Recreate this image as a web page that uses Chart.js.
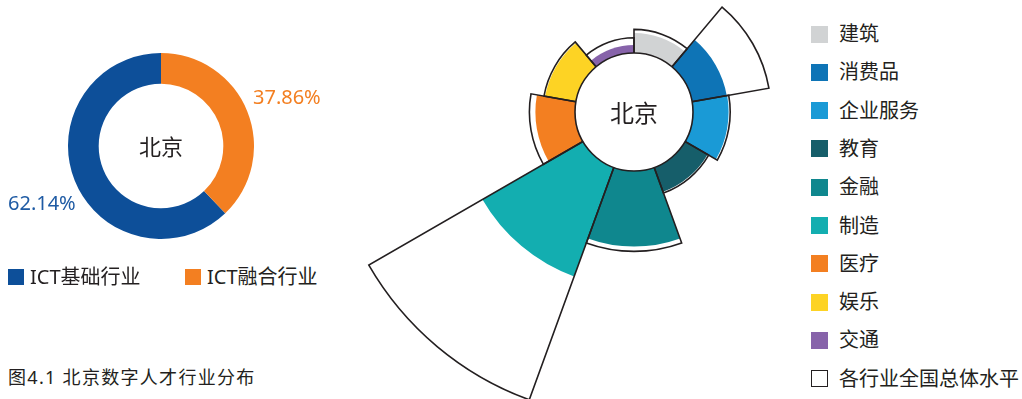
<!DOCTYPE html>
<html lang="zh-CN">
<head>
<meta charset="utf-8">
<title>北京数字人才行业分布</title>
<script src="https://cdn.jsdelivr.net/npm/chart.js@4.4.1/dist/chart.umd.min.js"></script>
<style>
  html, body { margin: 0; padding: 0; background: #fff; }
  body {
    position: relative; width: 1022px; height: 399px; overflow: hidden;
    font-family: "Noto Sans", "Noto Sans CJK SC", sans-serif; color: #231f20;
  }
  .abs { position: absolute; }
  #donutBox { left: 68px; top: 53px; width: 186px; height: 186px; }
  #roseBox { left: 330px; top: 0; width: 470px; height: 399px; }
  .pct { font-size: 20px; line-height: 1; transform: translateY(-50%); white-space: nowrap; }
  .lg { display: flex; align-items: center; font-size: 20px; line-height: 1; white-space: nowrap;
        transform: translateY(-50%); }
  .lg .sw { width: 16px; height: 16px; margin-right: 6px; box-sizing: border-box; }
  #roseLegend .lg .sw { width: 17px; height: 17px; margin-right: 11px; }
  .caption { left: 8px; top: 377px; font-size: 18px; letter-spacing: 1.3px; line-height: 1;
             transform: translateY(-50%); white-space: nowrap; }
</style>
</head>
<body>
<div id="donutBox" class="abs"><canvas id="donutChart"></canvas></div>
<div id="roseBox" class="abs"><canvas id="roseChart"></canvas></div>
<div id="donutLabels"></div>
<div id="donutLegend"></div>
<div id="roseLegend"></div>
<div class="abs caption">图4.1 北京数字人才行业分布</div>

<script>
// ICT split for Beijing (percent)
const ictLabels = ['ICT基础行业', 'ICT融合行业'];
const ictShares = [62.14, 37.86];

// Industry distribution: Beijing vs the national overall level
const industries = ['建筑', '消费品', '企业服务', '教育', '金融', '制造', '医疗', '娱乐', '交通'];
const beijingValues = [5.0, 8.8, 8.9, 6.5, 18.9, 29.0, 9.9, 7.8, 2.0];
const nationalValues = [5.9, 19.5, 9.3, 6.8, 20.1, 61.8, 11.4, 8.1, 3.8];
const nationalLabel = '各行业全国总体水平';

const ictColors = ['#0d4f99', '#f37f21'];
const ictTextColors = ['#1f5ba4', '#f37f21'];
const industryColors = ['#d1d3d4', '#0e74b6', '#1a9ad6', '#165e6a', '#0f878e',
                        '#13aeb0', '#f37f21', '#fdd324', '#8763aa'];
const ink = '#231f20';

// Rose geometry: square chart area, hole radius and px per percent
const ROSE_BOX = 224;
const HOLE = 59;
const PX_PER_UNIT = 4;
const roseMin = -HOLE / PX_PER_UNIT;
const roseMax = roseMin + ROSE_BOX / 2 / PX_PER_UNIT;

// White disc with a city name in the middle of a chart
const centerDisc = {
  id: 'centerDisc',
  afterDatasetsDraw(chart, args, opts) {
    const ctx = chart.ctx;
    let x, y;
    if (chart.scales.r) {
      const s = chart.scales.r;
      x = s.xCenter; y = s.yCenter;
      const r = s.getDistanceFromCenterForValue(0);
      ctx.save();
      ctx.beginPath();
      ctx.arc(x, y, r, 0, Math.PI * 2);
      ctx.fillStyle = '#fff';
      ctx.fill();
      ctx.lineWidth = 1.6;
      ctx.strokeStyle = ink;
      ctx.stroke();
      ctx.restore();
    } else {
      const a = chart.getDatasetMeta(0).data[0];
      x = a.x; y = a.y;
    }
    ctx.save();
    ctx.fillStyle = ink;
    ctx.font = opts.size + 'px "Noto Sans CJK SC"';
    ctx.textAlign = 'center';
    ctx.textBaseline = 'middle';
    ctx.fillText(opts.text, x, y + 1);
    ctx.restore();
  }
};

new Chart(document.getElementById('donutChart'), {
  type: 'doughnut',
  data: {
    labels: ictLabels,
    datasets: [{
      data: ictShares,
      backgroundColor: ictColors,
      borderWidth: 0
    }]
  },
  options: {
    responsive: true,
    maintainAspectRatio: false,
    animation: false,
    cutout: '67%',
    rotation: 360 * ictShares[1] / 100,
    plugins: {
      legend: { display: false },
      tooltip: { enabled: false },
      centerDisc: { text: '北京', size: 22 }
    }
  },
  plugins: [centerDisc]
});

new Chart(document.getElementById('roseChart'), {
  type: 'polarArea',
  data: {
    labels: industries,
    datasets: [
      {
        // national level: outline only, drawn on top
        label: nationalLabel,
        data: nationalValues,
        backgroundColor: 'rgba(255,255,255,0)',
        borderColor: ink,
        borderWidth: 1.6,
        borderJoinStyle: 'miter',
        clip: false
      },
      {
        label: '北京',
        data: beijingValues,
        backgroundColor: industryColors,
        borderWidth: 0,
        clip: false
      }
    ]
  },
  options: {
    responsive: true,
    maintainAspectRatio: false,
    animation: false,
    layout: { padding: { left: 192, right: 54, top: 0, bottom: 399 - ROSE_BOX } },
    scales: {
      r: {
        min: roseMin,
        max: roseMax,
        ticks: { display: false },
        grid: { display: false },
        angleLines: { display: false },
        pointLabels: { display: false }
      }
    },
    plugins: {
      legend: { display: false },
      tooltip: { enabled: false },
      centerDisc: { text: '北京', size: 24 }
    }
  },
  plugins: [centerDisc]
});

// Percent labels beside the ring
const pctPos = [{ left: 8, top: 203 }, { left: 253, top: 97 }];
document.getElementById('donutLabels').innerHTML = ictShares.map((v, i) =>
  `<div class="abs pct" style="left:${pctPos[i].left}px;top:${pctPos[i].top}px;color:${ictTextColors[i]}">${v.toFixed(2)}%</div>`
).join('');

// Donut legend
const donutLegendX = [8, 185];
document.getElementById('donutLegend').innerHTML = ictLabels.map((t, i) =>
  `<div class="abs lg" style="left:${donutLegendX[i]}px;top:277px"><span class="sw" style="background:${ictColors[i]}"></span>${t}</div>`
).join('');

// Rose legend, one row per industry plus the national outline
const rows = industries.map((t, i) =>
  `<span class="sw" style="background:${industryColors[i]}"></span>${t}`
);
rows.push(`<span class="sw" style="border:1.6px solid ${ink};background:#fff"></span>${nationalLabel}`);
document.getElementById('roseLegend').innerHTML = rows.map((html, i) =>
  `<div class="abs lg" style="left:811px;top:${34 + i * 38.3}px">${html}</div>`
).join('');
</script>
</body>
</html>
